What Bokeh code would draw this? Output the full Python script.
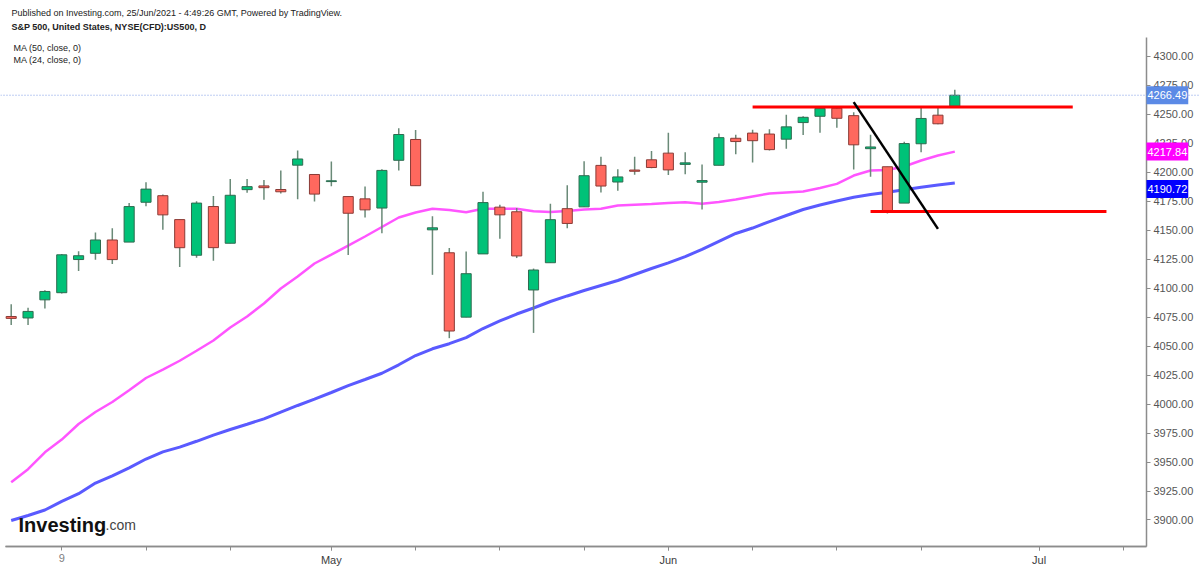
from bokeh.embed import file_html
from bokeh.models import (ColumnDataSource, FixedTicker, Label, LinearAxis, NumeralTickFormatter,
                          Range1d, Span)
from bokeh.plotting import figure
from bokeh.resources import INLINE

# S&P 500 daily candles, 6 Apr - 24 Jun 2021
dates = ["04-06", "04-07", "04-08", "04-09", "04-12", "04-13", "04-14", "04-15", "04-16",
         "04-19", "04-20", "04-21", "04-22", "04-23", "04-26", "04-27", "04-28", "04-29",
         "04-30", "05-03", "05-04", "05-05", "05-06", "05-07", "05-10", "05-11", "05-12",
         "05-13", "05-14", "05-17", "05-18", "05-19", "05-20", "05-21", "05-24", "05-25",
         "05-26", "05-27", "05-28", "06-01", "06-02", "06-03", "06-04", "06-07", "06-08",
         "06-09", "06-10", "06-11", "06-14", "06-15", "06-16", "06-17", "06-18", "06-21",
         "06-22", "06-23", "06-24"]
opens = [4075.57, 4074.29, 4089.95, 4096.11, 4124.71, 4130.10, 4141.58, 4139.76, 4174.14,
         4179.80, 4159.18, 4128.42, 4170.46, 4138.78, 4185.03, 4188.25, 4185.14, 4206.14,
         4198.10, 4191.98, 4179.04, 4177.06, 4169.14, 4210.34, 4228.29, 4150.34, 4130.55,
         4074.99, 4129.58, 4169.92, 4165.94, 4098.45, 4121.97, 4168.61, 4170.16, 4205.94,
         4191.59, 4201.94, 4210.77, 4216.52, 4206.82, 4191.43, 4206.05, 4229.34, 4233.81,
         4232.99, 4228.56, 4242.90, 4248.31, 4255.28, 4248.87, 4220.37, 4204.78, 4173.40,
         4224.61, 4249.27, 4256.97]
highs = [4086.23, 4083.13, 4098.19, 4129.48, 4131.76, 4148.00, 4151.69, 4173.49, 4191.31,
         4180.81, 4159.18, 4175.02, 4179.57, 4194.17, 4194.19, 4193.35, 4201.53, 4218.78,
         4198.10, 4209.39, 4179.04, 4187.72, 4202.70, 4238.04, 4236.39, 4162.04, 4134.73,
         4131.58, 4183.13, 4171.92, 4169.15, 4116.93, 4172.80, 4188.72, 4209.52, 4213.42,
         4202.61, 4213.38, 4218.36, 4234.12, 4217.37, 4206.63, 4233.45, 4232.34, 4236.74,
         4237.09, 4249.74, 4248.38, 4255.59, 4257.16, 4251.89, 4232.29, 4204.78, 4226.24,
         4255.84, 4256.60, 4271.28]
lows = [4068.14, 4068.31, 4082.54, 4095.51, 4114.82, 4124.43, 4120.87, 4139.76, 4170.75,
        4150.47, 4118.38, 4126.35, 4123.69, 4138.78, 4182.36, 4176.22, 4181.78, 4176.81,
        4174.85, 4188.03, 4128.59, 4160.94, 4147.33, 4201.64, 4188.13, 4111.53, 4056.88,
        4074.99, 4129.58, 4142.69, 4125.99, 4061.41, 4121.97, 4151.72, 4170.16, 4182.52,
        4184.11, 4197.78, 4203.57, 4197.59, 4198.27, 4167.93, 4206.05, 4215.66, 4208.41,
        4218.74, 4220.34, 4232.25, 4234.07, 4238.35, 4202.45, 4196.05, 4164.40, 4173.40,
        4217.27, 4241.43, 4256.97]
closes = [4073.94, 4079.95, 4097.17, 4128.80, 4127.99, 4141.59, 4124.66, 4170.42, 4185.47,
          4163.26, 4134.94, 4173.42, 4134.98, 4180.17, 4187.62, 4186.72, 4183.18, 4211.47,
          4181.17, 4192.66, 4164.66, 4167.59, 4201.62, 4232.60, 4188.43, 4152.10, 4063.04,
          4112.50, 4173.85, 4163.29, 4127.83, 4115.68, 4159.12, 4155.86, 4197.05, 4188.13,
          4195.99, 4200.88, 4204.11, 4202.04, 4208.12, 4192.85, 4229.89, 4226.52, 4227.26,
          4219.55, 4239.18, 4247.44, 4255.15, 4246.59, 4223.70, 4221.86, 4166.45, 4224.79,
          4246.44, 4241.84, 4266.49]

# moving averages
ma24 = [3932.6, 3943.8, 3958.4, 3969.4, 3982.8, 3993.2, 4001.8, 4011.9, 4022.5, 4029.8,
        4037.4, 4046.0, 4054.9, 4066.1, 4075.6, 4086.8, 4099.7, 4110.1, 4121.3, 4129.0,
        4136.8, 4144.6, 4152.8, 4161.0, 4165.3, 4168.5, 4167.5, 4165.6, 4168.5, 4168.5,
        4168.5, 4166.4, 4165.7, 4166.6, 4167.9, 4168.5, 4171.3, 4172.0, 4172.7, 4173.5,
        4174.2, 4172.8, 4174.4, 4176.5, 4179.1, 4181.7, 4182.6, 4183.4, 4186.4, 4190.0,
        4197.2, 4201.5, 4202.0, 4205.0, 4210.2, 4214.5, 4217.84]
ma50 = [3899.6, 3903.9, 3908.6, 3916.0, 3922.7, 3931.9, 3938.1, 3944.9, 3952.6, 3958.8,
        3962.9, 3967.9, 3973.2, 3978.1, 3982.6, 3987.3, 3993.1, 3998.8, 4004.3, 4010.0,
        4015.9, 4021.2, 4026.6, 4033.9, 4041.9, 4047.7, 4052.1, 4057.4, 4065.2, 4071.7,
        4077.7, 4082.9, 4088.5, 4093.3, 4098.0, 4102.3, 4106.6, 4111.8, 4117.0, 4121.9,
        4127.3, 4133.4, 4140.3, 4147.2, 4151.9, 4157.5, 4162.7, 4167.9, 4171.8, 4175.2,
        4178.5, 4180.8, 4182.8, 4184.9, 4187.1, 4189.0, 4190.72]

# hand-drawn levels (bar index, price)
resist_x = [44, 63]
resist_y = [4256.3, 4256.3]
support_x = [51, 65]
support_y = [4166.2, 4166.2]
trend_x = [50, 55]
trend_y = [4260.5, 4151.2]

x_ticks = [3, 8, 13, 19, 24, 29, 34, 39, 44, 49, 54, 61, 66]
day_labels = {3: "9"}
month_ticks = [19, 39, 61]
month_labels = {19: "May", 39: "Jun", 61: "Jul"}
y_ticks = [3900, 3925, 3950, 3975, 4000, 4025, 4050, 4075, 4100, 4125, 4150, 4175,
           4200, 4225, 4250, 4275, 4300]

FONT = "Liberation Sans"
UP, DOWN = "#00c278", "#ff685e"
UP_EDGE, DOWN_EDGE = "#2f6b50", "#8a3b36"
WICK = "#6a8a78"
AXIS = "#8c8c8c"
W, H = 1200, 569


# pixel -> data helpers (the frame fills the whole canvas)
def px_x(px):
    return (px - 10.7) / 16.85


def px_y(py):
    return 4076 + (315.5 - py) / 1.159


idx = list(range(len(dates)))
up = [c >= o for o, c in zip(opens, closes)]
src = ColumnDataSource(dict(
    x=idx, high=highs, low=lows,
    top=[max(o, c) for o, c in zip(opens, closes)],
    bottom=[min(o, c) for o, c in zip(opens, closes)],
    fill=[UP if u else DOWN for u in up],
    edge=[UP_EDGE if u else DOWN_EDGE for u in up],
))

p = figure(width=W, height=H, output_backend="svg", toolbar_location=None, tools="",
           x_range=Range1d(px_x(0), px_x(W)), y_range=Range1d(px_y(H), px_y(0)),
           y_axis_location="right", min_border=0)
p.outline_line_color = None
p.xgrid.grid_line_color = None
p.ygrid.grid_line_color = None

p.line(idx, ma24, color="#ff55ff", line_width=2.5)
p.line(idx, ma50, color="#5a5aff", line_width=3)

p.segment(x0="x", y0="low", x1="x", y1="high", source=src, color=WICK, line_width=1.5)
p.vbar(x="x", width=0.6, top="top", bottom="bottom", source=src,
       fill_color="fill", line_color="edge", line_width=1)

p.line(resist_x, resist_y, color="#ff0000", line_width=3)
p.line(support_x, support_y, color="#ff0000", line_width=3)
p.line(trend_x, trend_y, color="#000000", line_width=2.5)

p.add_layout(Span(location=closes[-1], dimension="width", line_color="#7d9be6",
                  line_dash="1 2", line_width=1))


def style_axis(ax, color):
    ax.minor_tick_line_color = None
    ax.major_tick_in = 0
    ax.major_tick_out = 4
    ax.major_label_standoff = 3
    ax.axis_line_color = AXIS
    ax.axis_line_width = 1.5
    ax.major_tick_line_color = AXIS
    ax.major_label_text_color = color
    ax.major_label_text_font = FONT
    ax.major_label_text_font_size = "11px"


# price scale pinned at the right edge of the price area
yax = p.yaxis[0]
yax.fixed_location = px_x(1146)
yax.bounds = (px_y(546), px_y(37))
yax.ticker = FixedTicker(ticks=y_ticks)
yax.formatter = NumeralTickFormatter(format="0.00")
style_axis(yax, "#555555")

# time scale: weekly ticks, day label light, month labels darker
xax = p.xaxis[0]
xax.fixed_location = px_y(546)
xax.bounds = (px_x(5), px_x(1146))
xax.ticker = FixedTicker(ticks=x_ticks)
xax.major_label_overrides = {t: day_labels.get(t, "") for t in x_ticks}
style_axis(xax, "#808080")

mx = LinearAxis(fixed_location=px_y(546), bounds=(px_x(5), px_x(1146)),
                ticker=FixedTicker(ticks=month_ticks))
mx.major_label_overrides = dict(month_labels)
style_axis(mx, "#3c3c3c")
p.add_layout(mx, "below")

# last-value tags on the price scale
tags = [(closes[-1], "#5b8ae6", 0), (ma24[-1], "#ff00ff", 0), (ma50[-1], "#0000ff", -6)]
for val, col, off in tags:
    p.add_layout(Label(x=px_x(1146), y=val, y_offset=off, text=f"{val:.2f}",
                       text_color="white", text_font=FONT, text_font_size="11px",
                       text_baseline="middle", background_fill_color=col, padding=(1, 5)))

# header texts
header = [
    ("Published on Investing.com, 25/Jun/2021 - 4:49:26 GMT, Powered by TradingView.",
     12, 11, "normal"),
    ("S&P 500, United States, NYSE(CFD):US500, D", 26.5, 11, "bold"),
    ("MA (50, close, 0)", 47.5, 13, "normal"),
    ("MA (24, close, 0)", 59.5, 13, "normal"),
]
for txt, ty, tx, style in header:
    p.add_layout(Label(x=px_x(tx), y=px_y(ty), text=txt, text_font=FONT,
                       text_font_size="9px", text_font_style=style,
                       text_color="#222222", text_baseline="middle"))

# watermark logo
p.add_layout(Label(x=px_x(18), y=px_y(524), text="Investing", text_font=FONT,
                   text_font_size="20px", text_font_style="bold", text_color="#111111",
                   text_baseline="alphabetic"))
p.add_layout(Label(x=px_x(105), y=px_y(524), text=".com", text_font=FONT,
                   text_font_size="14px", text_color="#444444",
                   text_baseline="alphabetic"))

open("out.html", "w").write(file_html(p, INLINE))
